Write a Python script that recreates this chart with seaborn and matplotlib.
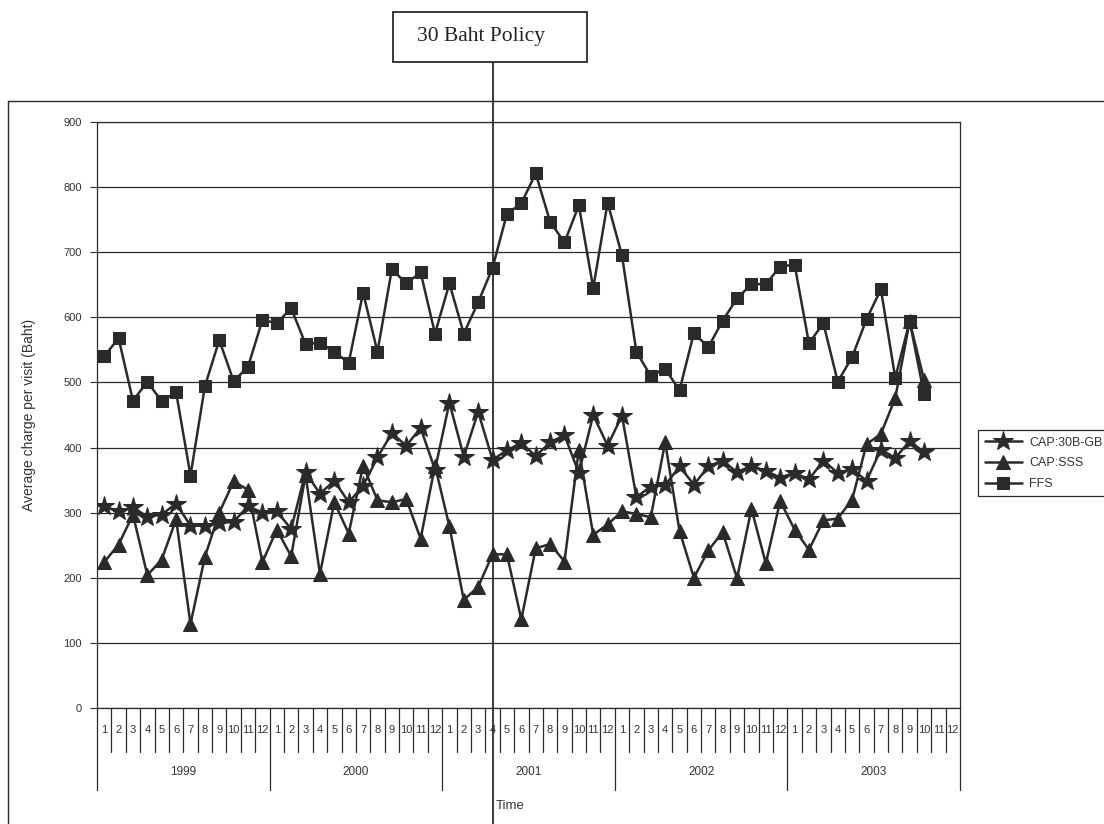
import matplotlib
matplotlib.use("Agg")
import matplotlib.pyplot as plt
from matplotlib.lines import Line2D
from matplotlib.patches import Rectangle
import pandas as pd
import seaborn as sns

# Monthly average charge per visit (Baht), Jan 1999 onward
years = ["1999", "2000", "2001", "2002", "2003"]
months = [str(m) for m in range(1, 13)]

cap_30b_gb = [
    310, 302, 308, 294, 297, 314, 280, 280, 284, 286, 310, 300,
    302, 275, 362, 329, 349, 316, 341, 385, 422, 403, 430, 366,
    469, 386, 455, 381, 396, 407, 387, 408, 419, 361, 450, 403,
    449, 324, 340, 342, 371, 343, 371, 380, 362, 372, 364, 354,
    361, 351, 380, 361, 367, 349, 397, 384, 410, 393,
]
cap_sss = [
    224, 251, 297, 204, 228, 290, 129, 232, 300, 348, 335, 224,
    274, 233, 358, 206, 316, 268, 372, 319, 316, 321, 260, 372,
    279, 166, 186, 236, 236, 136, 245, 252, 225, 397, 266, 282,
    302, 298, 293, 408, 272, 200, 242, 270, 199, 306, 222, 318,
    274, 243, 288, 291, 320, 405, 421, 476, 594, 504,
]
ffs = [
    540, 568, 472, 501, 471, 485, 357, 494, 565, 502, 524, 596,
    591, 614, 559, 561, 547, 530, 638, 547, 674, 652, 669, 575,
    652, 575, 623, 676, 759, 775, 821, 747, 715, 772, 645, 776,
    695, 547, 510, 521, 488, 576, 554, 595, 629, 651, 651, 678,
    681, 560, 591, 501, 539, 597, 643, 507, 594, 482,
]

series_labels = ["CAP:30B-GB", "CAP:SSS", "FFS"]
policy_label = "30 Baht Policy"
policy_year, policy_month = "2001", 4

INK = "#2a2a2a"
W, H = 1104, 824

sns.set_style("white")
plt.rcParams["font.family"] = ["Liberation Sans", "DejaVu Sans"]

frames = []
for name, vals in zip(series_labels, [cap_30b_gb, cap_sss, ffs]):
    frames.append(pd.DataFrame({"t": range(len(vals)), "value": vals, "series": name}))
df = pd.concat(frames, ignore_index=True)

fig = plt.figure(figsize=(W / 100, H / 100), dpi=100)
fig.patch.set_facecolor("white")
ax_left, ax_right, ax_top, ax_bottom = 97, 960, 122, 708
ax = fig.add_axes([ax_left / W, 1 - ax_bottom / H,
                   (ax_right - ax_left) / W, (ax_bottom - ax_top) / H])

style = {
    "FFS": dict(marker="s", markersize=8),
    "CAP:SSS": dict(marker="^", markersize=10),
    "CAP:30B-GB": dict(marker="*", markersize=15),
}
for name in ["FFS", "CAP:SSS", "CAP:30B-GB"]:
    sns.lineplot(data=df[df["series"] == name], x="t", y="value", ax=ax,
                 color=INK, linewidth=1.8, label=name,
                 markeredgecolor=INK, markerfacecolor=INK, **style[name])

n_months = len(years) * 12
ax.set_xlim(-0.5, n_months - 0.5)
ax.set_ylim(0, 900)
ax.set_yticks(range(0, 901, 100))
ax.set_xticks([])
ax.set_xlabel("")
ax.yaxis.grid(True, color=INK, linewidth=0.9)
ax.tick_params(axis="y", direction="out", length=5, width=0.8, color=INK,
               labelsize=8, labelcolor="#333333", pad=6, left=True)
for sp in ax.spines.values():
    sp.set_color(INK)
    sp.set_linewidth(0.9)

ax.set_ylabel("Average charge per visit (Baht)", fontsize=10, color="#333333")
ax.yaxis.set_label_coords((36 - ax_left) / (ax_right - ax_left), 0.5)

# Two-level category axis: months under each point, years underneath
trans = ax.get_xaxis_transform()
ph = ax_bottom - ax_top
short_len = (752 - ax_bottom) / ph
long_len = (790 - ax_bottom) / ph
for i in range(n_months + 1):
    x = i - 0.5
    length = long_len if i % 12 == 0 else short_len
    ax.plot([x, x], [0, -length], transform=trans, clip_on=False,
            color=INK, linewidth=0.9)
for i in range(n_months):
    ax.text(i, -(730 - ax_bottom) / ph, months[i % 12], transform=trans,
            ha="center", va="center", fontsize=8, color="#333333")
for k, yr in enumerate(years):
    ax.text(12 * k + 5.5, -(772 - ax_bottom) / ph, yr, transform=trans,
            ha="center", va="center", fontsize=8.5, color="#333333")
fig.text(510 / W, 1 - 806 / H, "Time", ha="center", va="center",
         fontsize=9.5, color="#333333")

# Policy marker line and its label box
policy_idx = years.index(policy_year) * 12 + (policy_month - 1)
ax.axvline(policy_idx, ymin=-(H - ax_bottom) / ph, ymax=(ax_bottom - 62) / ph,
           color=INK, linewidth=1.3, clip_on=False)
fig.patches.append(Rectangle((393 / W, 1 - 62 / H), 194 / W, 50 / H,
                             transform=fig.transFigure, facecolor="white",
                             edgecolor=INK, linewidth=1.3))
fig.text(481 / W, 1 - 37 / H, policy_label, ha="center", va="center",
         fontsize=15.5, family=["Liberation Serif", "DejaVu Serif"], color="#222222")

# Chart area border (left and top edges)
fig.add_artist(Line2D([8 / W, 8 / W], [0, 1 - 101 / H], transform=fig.transFigure,
                      color=INK, linewidth=1.0))
fig.add_artist(Line2D([8 / W, 1], [1 - 101 / H, 1 - 101 / H], transform=fig.transFigure,
                      color=INK, linewidth=1.0))

handles, labels = ax.get_legend_handles_labels()
order = [labels.index(s) for s in series_labels]
if ax.legend_:
    ax.legend_.remove()
leg = fig.legend([handles[i] for i in order], [labels[i] for i in order],
                 loc="upper left", bbox_to_anchor=(972 / W, 1 - 424 / H),
                 frameon=True, fancybox=False, edgecolor=INK, framealpha=1,
                 fontsize=9, handlelength=3, borderpad=0.5, labelspacing=0.7,
                 handletextpad=0.6)
leg.get_frame().set_linewidth(0.9)
for t in leg.get_texts():
    t.set_color("#333333")

fig.savefig("out.png", dpi=100, facecolor="white")
